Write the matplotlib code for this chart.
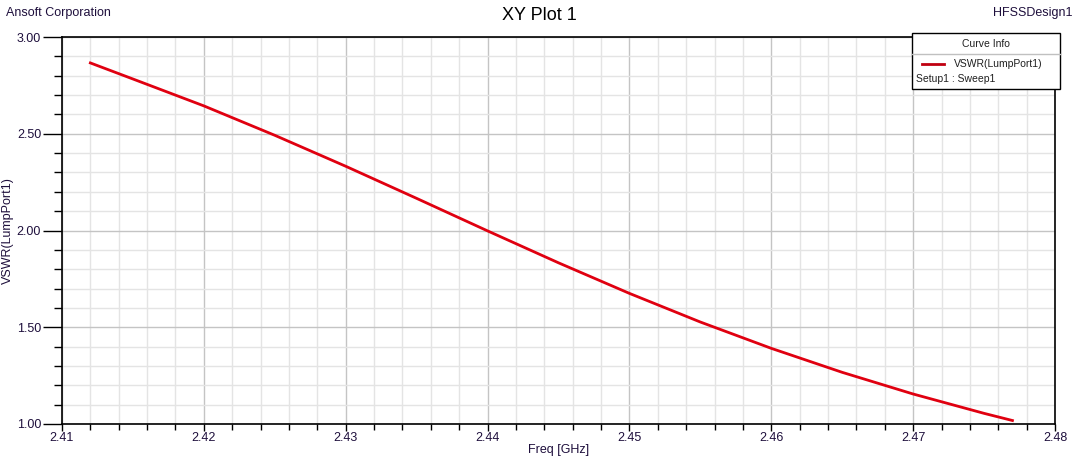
import matplotlib.pyplot as plt
from matplotlib.ticker import MultipleLocator
from matplotlib.patches import Rectangle
from matplotlib.lines import Line2D

# VSWR вдоль частоты
freq = [2.412, 2.415, 2.420, 2.425, 2.430, 2.435, 2.440, 2.445,
        2.450, 2.455, 2.460, 2.465, 2.470, 2.475, 2.477]
vswr = [2.866, 2.783, 2.644, 2.492, 2.332, 2.166, 1.998, 1.833,
        1.675, 1.527, 1.391, 1.267, 1.155, 1.055, 1.018]

x_ticks = [2.41, 2.42, 2.43, 2.44, 2.45, 2.46, 2.47, 2.48]
y_ticks = [1.00, 1.50, 2.00, 2.50, 3.00]

plt.rcParams['font.family'] = ['Liberation Sans', 'DejaVu Sans']
tick_color = '#1e0f3c'

fig = plt.figure(figsize=(10.78, 4.57), dpi=100, facecolor='white')
ax = fig.add_axes([62 / 1078, 33 / 457, 993 / 1078, 387 / 457])

ax.plot(freq, vswr, color='#e00010', linewidth=2)

ax.set_xlim(2.41, 2.48)
ax.set_ylim(1.0, 3.0)
ax.set_xticks(x_ticks)
ax.set_yticks(y_ticks)
ax.set_xticklabels(['{:.2f}'.format(v) for v in x_ticks])
ax.set_yticklabels(['{:.2f}'.format(v) for v in y_ticks])
ax.xaxis.set_minor_locator(MultipleLocator(0.002))
ax.yaxis.set_minor_locator(MultipleLocator(0.1))

ax.grid(True, which='major', color='#c4c4c4', linewidth=1)
ax.grid(True, which='minor', color='#e4e4e4', linewidth=1)
ax.set_axisbelow(True)

ax.tick_params(axis='x', which='major', length=5, width=1, direction='out',
               labelsize=9, labelcolor=tick_color, pad=1)
ax.tick_params(axis='x', which='minor', length=4, width=1, direction='out')
ax.tick_params(axis='y', which='major', length=14, width=1, direction='out',
               labelsize=9, labelcolor=tick_color, pad=1)
ax.tick_params(axis='y', which='minor', length=6, width=1, direction='out')

for side in ['top', 'right']:
    ax.spines[side].set_visible(False)
for side in ['left', 'bottom']:
    ax.spines[side].set_linewidth(1.2)
ax.plot([0, 1], [1, 1], transform=ax.transAxes, color='black', linewidth=1.2, clip_on=False)
ax.plot([1, 1], [0, 1], transform=ax.transAxes, color='black', linewidth=1.2, clip_on=False)

ax.set_xlabel('Freq [GHz]', fontsize=9, color=tick_color, labelpad=0)
ax.set_ylabel('VSWR(LumpPort1)', fontsize=9, color=tick_color, labelpad=2)

fig.text(0.5, 1 - 16 / 457, 'XY Plot 1', ha='center', va='center', fontsize=13)
fig.text(6 / 1078, 1 - 13 / 457, 'Ansoft Corporation', ha='left', va='center',
         fontsize=9, color=tick_color)
fig.text(1072 / 1078, 1 - 13 / 457, 'HFSSDesign1', ha='right', va='center',
         fontsize=9, color=tick_color)

# Curve Info box
W, H = 1078.0, 457.0
box_l, box_r, box_t, box_b = 912, 1060, 33, 89
fig.patches.append(Rectangle((box_l / W, 1 - box_b / H), (box_r - box_l) / W,
                             (box_b - box_t) / H, transform=fig.transFigure,
                             facecolor='white', edgecolor='black', linewidth=1, zorder=5))
fig.lines.append(Line2D([box_l / W, box_r / W], [1 - 54 / H, 1 - 54 / H],
                        transform=fig.transFigure, color='#c0c0c0', linewidth=1, zorder=6))
fig.text((box_l + box_r) / 2 / W, 1 - 44 / H, 'Curve Info', ha='center', va='center',
         fontsize=7.5, color='#202020', zorder=7)
fig.lines.append(Line2D([922 / W, 944 / W], [1 - 64 / H, 1 - 64 / H],
                        transform=fig.transFigure, color='#c00010', linewidth=2, zorder=6))
fig.text(954 / W, 1 - 64 / H, 'VSWR(LumpPort1)', ha='left', va='center',
         fontsize=7.5, color='#202020', zorder=7)
fig.text(916 / W, 1 - 79 / H, 'Setup1 : Sweep1', ha='left', va='center',
         fontsize=7.5, color='#202020', zorder=7)

plt.savefig('out.png', dpi=100, facecolor='white')
